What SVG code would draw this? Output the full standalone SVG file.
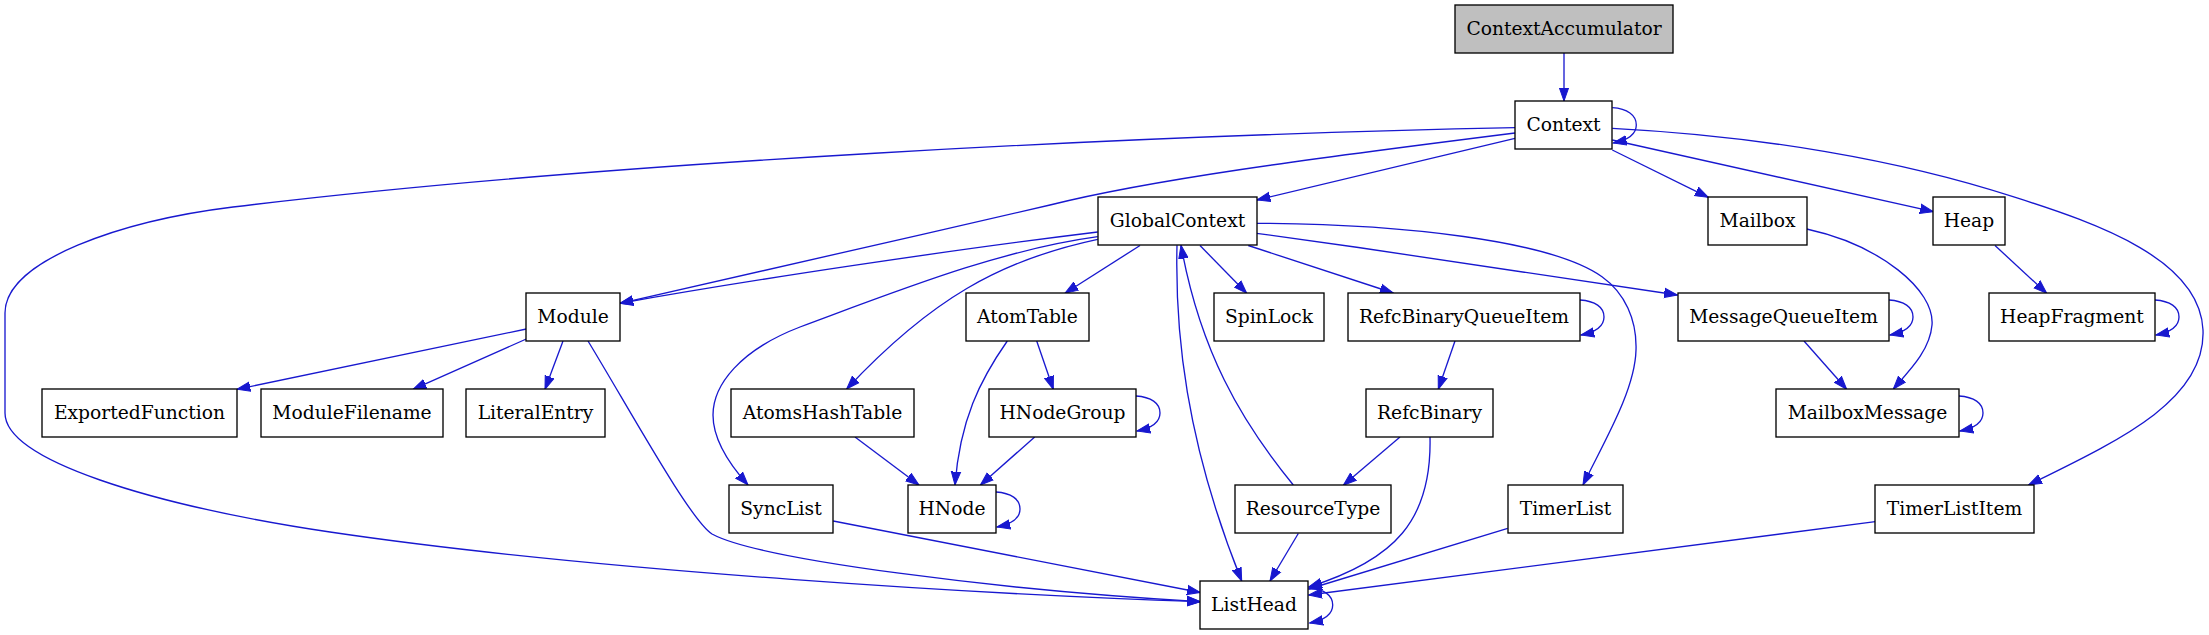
<svg xmlns="http://www.w3.org/2000/svg" width="2209" height="635" viewBox="0 0 2209 635">
<defs>
<style>
.n rect{fill:#ffffff;stroke:#000000;stroke-width:1.33}
.n text{font-family:"DejaVu Serif","Liberation Serif",serif;font-size:18.7px;fill:#000000;text-anchor:middle}
.g rect{fill:#bfbfbf}
#edges path{fill:none;stroke:#1818cf;stroke-width:1.33;marker-end:url(#ah)}
</style>
<marker id="ah" markerUnits="userSpaceOnUse" viewBox="0 -6 15 12" markerWidth="15" markerHeight="12" refX="13.3" refY="0" orient="auto">
<path d="M0,-4.7 L13.3,0 L0,4.7 Z" fill="#1818cf" stroke="#1818cf" stroke-width="1"/>
</marker>
</defs>
<rect x="0" y="0" width="2209" height="635" fill="#ffffff"/>
<g id="edges">
<path d="M1564,53 L1564,101"/>
<path d="M1612.3,107.7 C1627.3,108.7 1636.3,115 1636.3,125 C1636.3,134 1628.3,140 1613.3,143"/>
<path d="M1515,138.3 L1257,200"/>
<path d="M1515,133 C1300,160 1150,180 1050,205 C900,240 720,280 620,303.3"/>
<path d="M1515,127.7 C1150,135 600,162 233,207 C123,220.5 5,260 5,313 L5,413 C5,460 150,505 330,532 C600,572 1000,595 1200.3,601.7"/>
<path d="M1612.3,150 L1708.3,197.3"/>
<path d="M1612.3,140 L1933.3,211.7"/>
<path d="M1612.3,128.3 C1760,136 1900,160 2013,196.7 C2100,224 2200,260 2203,330 C2206,400 2120,440 2028.5,485"/>
<path d="M1097.7,232 C950,250 750,280 620,303.3"/>
<path d="M1140,245.5 L1065,293.3"/>
<path d="M1097.7,239.3 C1000,260 930,300 846.7,389"/>
<path d="M1097.7,236.7 C1000,250 900,290 800,327 C740,350 713,385 713,415 C713,440 730,465 748,485"/>
<path d="M1177,245.3 C1175,330 1185,440 1241.7,581"/>
<path d="M1200,245.5 L1246.7,293.3"/>
<path d="M1248.3,245.5 L1393.3,293"/>
<path d="M1256.7,233.3 C1400,253 1550,275 1677.4,295"/>
<path d="M1256.7,223.3 C1400,224 1550,240 1602,276.7 C1625,293 1637,320 1636,350 C1635,390 1605,440 1583,485"/>
<path d="M1293.3,485 C1240,420 1200,350 1181,245.3"/>
<path d="M526.3,329 L237,389.3"/>
<path d="M526.3,339 L413,389.3"/>
<path d="M563,341 L545,389.3"/>
<path d="M588,341 C630,410 690,520 712,534 C760,560 1000,590 1200.3,601.7"/>
<path d="M1007.3,341 C980,380 960,420 955,485"/>
<path d="M1036.7,341 L1053.3,389.3"/>
<path d="M855,437 L919,485"/>
<path d="M1034.7,437 L980.4,485"/>
<path d="M833.2,521 L1200.3,592.5"/>
<path d="M1455,341 L1438.3,389.3"/>
<path d="M1400,437 L1343.3,485.3"/>
<path d="M1430,437 C1432,520 1395,560 1308.7,587"/>
<path d="M1298.3,533.5 L1270,581"/>
<path d="M1507.7,528.3 L1308.7,589"/>
<path d="M1875.3,521.7 L1308.7,595"/>
<path d="M1804,341 L1846.7,389.3"/>
<path d="M1806.7,229 C1880,245 1935,290 1932,325 C1930,350 1910,370 1893.3,389"/>
<path d="M1995,245.5 L2046.7,293.3"/>
<path d="M1580,300 C1595,301 1604,307 1604,317 C1604,326 1596,332 1581,335"/>
<path d="M1889,300 C1904,301 1913,307 1913,317 C1913,326 1905,332 1890,335"/>
<path d="M2155,300 C2170,301 2179,307 2179,317 C2179,326 2171,332 2156,335"/>
<path d="M1136,396 C1151,397 1160,403 1160,413 C1160,422 1152,428 1137,431"/>
<path d="M1959,396 C1974,397 1983,403 1983,413 C1983,422 1975,428 1960,431"/>
<path d="M996,492 C1011,493 1020,499 1020,509 C1020,518 1012,524 997,527"/>
<path d="M1308.7,588 C1323.7,589 1332.7,595 1332.7,605 C1332.7,614 1324.7,620 1309.7,623"/>
</g>
<g id="ContextAccumulator" class="n g"><rect x="1455" y="5" width="218" height="48"/><text x="1564" y="34.5">ContextAccumulator</text></g>
<g id="Context" class="n"><rect x="1515" y="101" width="97" height="48"/><text x="1563.5" y="130.5">Context</text></g>
<g id="GlobalContext" class="n"><rect x="1098" y="197" width="159" height="48"/><text x="1177.5" y="226.5">GlobalContext</text></g>
<g id="Mailbox" class="n"><rect x="1708" y="197" width="99" height="48"/><text x="1757.5" y="226.5">Mailbox</text></g>
<g id="Heap" class="n"><rect x="1933" y="197" width="72" height="48"/><text x="1969" y="226.5">Heap</text></g>
<g id="Module" class="n"><rect x="526" y="293" width="94" height="48"/><text x="573" y="322.5">Module</text></g>
<g id="AtomTable" class="n"><rect x="966" y="293" width="123" height="48"/><text x="1027.5" y="322.5">AtomTable</text></g>
<g id="SpinLock" class="n"><rect x="1214" y="293" width="110" height="48"/><text x="1269" y="322.5">SpinLock</text></g>
<g id="RefcBinaryQueueItem" class="n"><rect x="1348" y="293" width="232" height="48"/><text x="1464" y="322.5">RefcBinaryQueueItem</text></g>
<g id="MessageQueueItem" class="n"><rect x="1678" y="293" width="211" height="48"/><text x="1783.5" y="322.5">MessageQueueItem</text></g>
<g id="HeapFragment" class="n"><rect x="1989" y="293" width="166" height="48"/><text x="2072" y="322.5">HeapFragment</text></g>
<g id="ExportedFunction" class="n"><rect x="42" y="389" width="195" height="48"/><text x="139.5" y="418.5">ExportedFunction</text></g>
<g id="ModuleFilename" class="n"><rect x="261" y="389" width="182" height="48"/><text x="352" y="418.5">ModuleFilename</text></g>
<g id="LiteralEntry" class="n"><rect x="466" y="389" width="139" height="48"/><text x="535.5" y="418.5">LiteralEntry</text></g>
<g id="AtomsHashTable" class="n"><rect x="731" y="389" width="183" height="48"/><text x="822.5" y="418.5">AtomsHashTable</text></g>
<g id="HNodeGroup" class="n"><rect x="989" y="389" width="147" height="48"/><text x="1062.5" y="418.5">HNodeGroup</text></g>
<g id="RefcBinary" class="n"><rect x="1366" y="389" width="127" height="48"/><text x="1429.5" y="418.5">RefcBinary</text></g>
<g id="MailboxMessage" class="n"><rect x="1776" y="389" width="183" height="48"/><text x="1867.5" y="418.5">MailboxMessage</text></g>
<g id="SyncList" class="n"><rect x="729" y="485" width="104" height="48"/><text x="781" y="514.5">SyncList</text></g>
<g id="HNode" class="n"><rect x="908" y="485" width="88" height="48"/><text x="952" y="514.5">HNode</text></g>
<g id="ResourceType" class="n"><rect x="1235" y="485" width="156" height="48"/><text x="1313" y="514.5">ResourceType</text></g>
<g id="TimerList" class="n"><rect x="1508" y="485" width="115" height="48"/><text x="1565.5" y="514.5">TimerList</text></g>
<g id="TimerListItem" class="n"><rect x="1875" y="485" width="159" height="48"/><text x="1954.5" y="514.5">TimerListItem</text></g>
<g id="ListHead" class="n"><rect x="1200" y="581" width="108" height="48"/><text x="1254" y="610.5">ListHead</text></g>
</svg>
